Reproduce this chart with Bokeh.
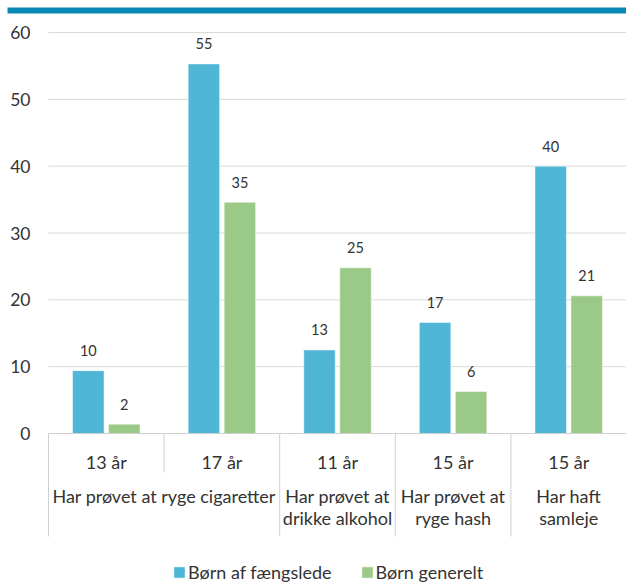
from bokeh.plotting import figure
from bokeh.models import Range1d
from bokeh.core.properties import value
from bokeh.embed import file_html
from bokeh.resources import INLINE

# ---- data ----
subcats = ["13 år", "17 år", "11 år", "15 år", "15 år"]
groups = ["Har prøvet at ryge cigaretter", "Har prøvet at\ndrikke alkohol",
          "Har prøvet at\nryge hash", "Har haft\nsamleje"]
group_sizes = [2, 1, 1, 1]
fangslede = [9.4, 55.3, 12.5, 16.6, 40.0]
generelt = [1.4, 34.6, 24.8, 6.3, 20.6]
labels_fangslede = ["10", "55", "13", "17", "40"]
labels_generelt = ["2", "35", "25", "6", "21"]
yticks = [0, 10, 20, 30, 40, 50, 60]
series_names = ["Børn af fængslede", "Børn generelt"]

# ---- layout constants (pixels) ----
W, H = 626, 584
LEFT_PX = 48
ZERO_PX = 433
TOP_PX = 32
n = len(subcats)
XPX = (W - LEFT_PX) / n
YPX = (ZERO_PX - TOP_PX) / yticks[-1]

FONT = value("Lato")
BLUE = "#40b0d3"
GREEN = "#93c47d"
GRID = "#d9d9d9"
AXC = "#cfcfcf"
TXT = "#333333"

p = figure(width=W, height=H, output_backend="svg", toolbar_location=None,
           x_range=Range1d(-LEFT_PX / XPX, n), y_range=Range1d(-(H - ZERO_PX) / YPX, ZERO_PX / YPX),
           x_axis_location=None, y_axis_location=None, min_border=0,
           outline_line_color=None)
p.grid.visible = False

# top band
p.quad(left=[(7 - LEFT_PX) / XPX], right=[n + 1], top=[(ZERO_PX - 7) / YPX],
       bottom=[(ZERO_PX - 13) / YPX], fill_color="#0a89b4", line_color=None)

# gridlines
gl = [t for t in yticks if t > 0]
p.segment(x0=[0] * len(gl), x1=[n] * len(gl), y0=gl, y1=gl, line_color=GRID, line_width=1)

centers = [i + 0.5 for i in range(n)]
off = 18 / XPX
bw = 31.5 / XPX
xb = [c - off for c in centers]
xg = [c + off for c in centers]

p.vbar(x=xb, top=fangslede, bottom=0, width=bw, fill_color=BLUE, fill_alpha=0.92,
       line_color="white", line_alpha=0.5, line_width=1, legend_label=series_names[0])
p.vbar(x=xg, top=generelt, bottom=0, width=bw, fill_color=GREEN, fill_alpha=0.92,
       line_color="white", line_alpha=0.5, line_width=1, legend_label=series_names[1])

# value labels
p.text(x=xb, y=fangslede, text=labels_fangslede, y_offset=-20, text_align="center",
       text_baseline="middle", text_font=FONT, text_font_size="14.5px", text_color=TXT)
p.text(x=xg, y=generelt, text=labels_generelt, y_offset=-20, text_align="center",
       text_baseline="middle", text_font=FONT, text_font_size="14.5px", text_color=TXT)

# y tick labels
p.text(x=[-18 / XPX] * len(yticks), y=yticks, text=[str(t) for t in yticks],
       text_align="right", text_baseline="middle", text_font=FONT,
       text_font_size="17.5px", text_color=TXT)

# x axis line
p.segment(x0=[0], x1=[n], y0=[0], y1=[0], line_color=AXC, line_width=1)

# separators
bounds = [0]
for s in group_sizes:
    bounds.append(bounds[-1] + s)
short = [b for b in range(1, n) if b not in bounds]
p.segment(x0=bounds, x1=bounds, y0=[0] * len(bounds), y1=[-103 / YPX] * len(bounds),
          line_color=AXC, line_width=1)
p.segment(x0=short, x1=short, y0=[0] * len(short), y1=[-39 / YPX] * len(short),
          line_color=AXC, line_width=1)

# subcategory labels
p.text(x=centers, y=[0] * n, text=subcats, y_offset=28.5, text_align="center",
       text_baseline="middle", text_font=FONT, text_font_size="18px", text_color=TXT)

# group labels
gc = [(bounds[i] + bounds[i + 1]) / 2 for i in range(len(groups))]
p.text(x=gc, y=[0] * len(groups), text=groups, y_offset=51.5, text_align="center",
       text_baseline="top", text_font=FONT, text_font_size="18px", text_color=TXT,
       text_line_height=1.0)

lg = p.legend[0]
lg.orientation = "horizontal"
lg.location = (172, 1)
lg.glyph_width = 14
lg.glyph_height = 14
lg.label_standoff = 2
lg.spacing = 28
lg.padding = 0
lg.margin = 0
lg.border_line_color = None
lg.background_fill_alpha = 0
lg.label_text_font = "Lato"
lg.label_text_font_size = "18px"
lg.label_text_color = TXT

open("out.html", "w").write(file_html(p, INLINE))
